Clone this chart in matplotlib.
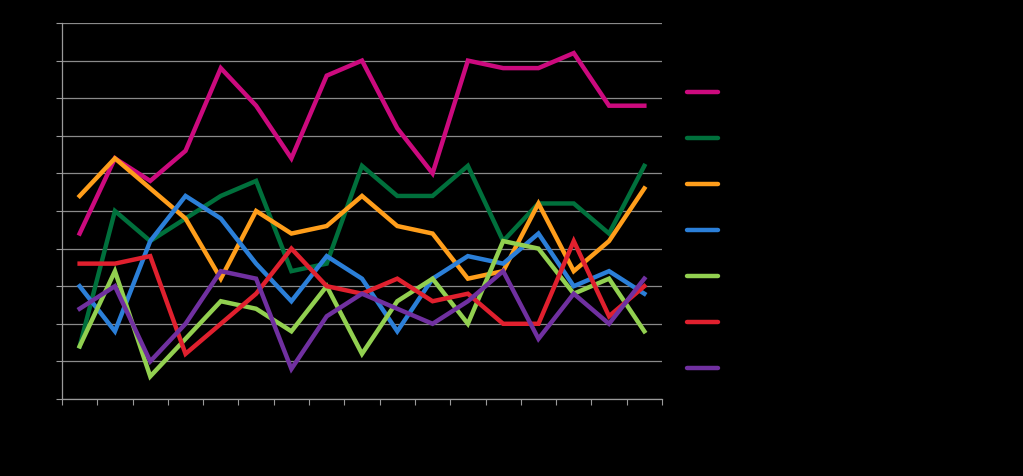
import matplotlib
import matplotlib.pyplot as plt
import numpy as np

matplotlib.use('Agg')

# ----------------------------------------- Data -----------------------------------------
periods = list(range(1, 18))
series_names = ['Series 1', 'Series 2', 'Series 3', 'Series 4', 'Series 5', 'Series 6', 'Series 7']

pink = [4.4, 6.4, 5.8, 6.6, 8.8, 7.8, 6.4, 8.6, 9.0, 7.2, 6.0, 9.0, 8.8, 8.8, 9.2, 7.8, 7.8]
dark_green = [1.4, 5.0, 4.2, 4.8, 5.4, 5.8, 3.4, 3.6, 6.2, 5.4, 5.4, 6.2, 4.2, 5.2, 5.2, 4.4, 6.2]
orange = [5.4, 6.4, 5.6, 4.8, 3.2, 5.0, 4.4, 4.6, 5.4, 4.6, 4.4, 3.2, 3.4, 5.2, 3.4, 4.2, 5.6]
blue = [3.0, 1.8, 4.2, 5.4, 4.8, 3.6, 2.6, 3.8, 3.2, 1.8, 3.2, 3.8, 3.6, 4.4, 3.0, 3.4, 2.8]
light_green = [1.4, 3.4, 0.6, 1.6, 2.6, 2.4, 1.8, 3.0, 1.2, 2.6, 3.2, 2.0, 4.2, 4.0, 2.8, 3.2, 1.8]
red = [3.6, 3.6, 3.8, 1.2, 2.0, 2.8, 4.0, 3.0, 2.8, 3.2, 2.6, 2.8, 2.0, 2.0, 4.2, 2.2, 3.0]
purple = [2.4, 3.0, 1.0, 2.0, 3.4, 3.2, 0.8, 2.2, 2.8, 2.4, 2.0, 2.6, 3.4, 1.6, 2.8, 2.0, 3.2]

all_series = [pink, dark_green, orange, blue, light_green, red, purple]
colors = ['#CC0A7E', '#00703C', '#FF9E1B', '#2B7FD8', '#92D050', '#E0202E', '#7030A0']

# ----------------------------------------- Graphing -----------------------------------------
fig = plt.figure(figsize=(10.23, 4.76), dpi=100, facecolor='black')
ax = fig.add_axes([0.0606, 0.1618, 0.5865, 0.7899], facecolor='black')

x = np.arange(len(periods)) + 0.5
for values, color, name in zip(all_series, colors, series_names):
    ax.plot(x, values, color=color, linewidth=3.2, label=name, solid_joinstyle='miter')

ax.set_xlim(0, len(periods))
ax.set_ylim(0, 10)
ax.set_xticks(np.arange(len(periods) + 1))
ax.set_yticks(np.arange(0, 11))
ax.set_xticklabels([])
ax.set_yticklabels([])
ax.tick_params(axis='both', direction='out', length=4, width=0.8, color='#9a9a9a')

ax.grid(axis='y', color='#8a8a8a', linewidth=0.9)
ax.set_axisbelow(True)
for side in ['top', 'right']:
    ax.spines[side].set_visible(False)
for side in ['left', 'bottom']:
    ax.spines[side].set_color('#9a9a9a')
    ax.spines[side].set_linewidth(0.9)

# legend with black (hidden) labels, as in the original
leg = ax.legend(loc='upper left', bbox_to_anchor=(0.6713, 0.8245), bbox_transform=fig.transFigure,
                frameon=False, fontsize=12, handlelength=1.89, handletextpad=0.8,
                labelspacing=1.68, borderpad=0.0, borderaxespad=0.0, labelcolor='black')
for line in leg.get_lines():
    line.set_linewidth(3.2)
    line.set_solid_capstyle('round')

plt.savefig('out.png', facecolor='black')
